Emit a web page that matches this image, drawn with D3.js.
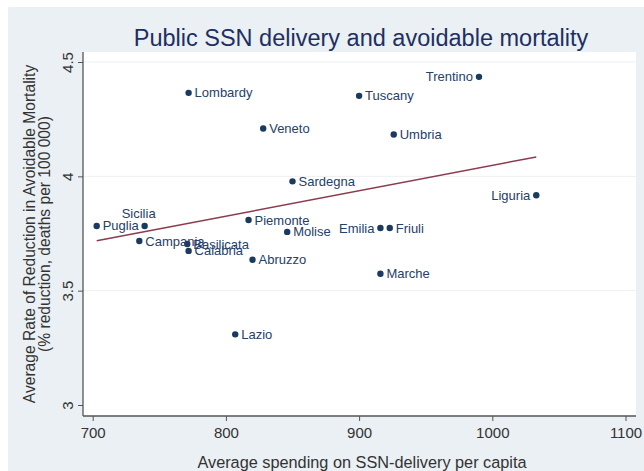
<!DOCTYPE html>
<html>
<head>
<meta charset="utf-8">
<script src="https://cdn.jsdelivr.net/npm/d3@7"></script>
<style>
  body { margin: 0; background: #fff; }
  text { font-family: "Liberation Sans", Arial, sans-serif; }
</style>
</head>
<body>
<div class="chart"></div>
<script>
// data
var regions = ["Trentino", "Lombardy", "Tuscany", "Veneto", "Umbria", "Sardegna", "Liguria",
  "Sicilia", "Puglia", "Piemonte", "Molise", "Emilia", "Friuli", "Campania", "Basilicata",
  "Calabria", "Abruzzo", "Marche", "Lazio"];
var spending = [990, 772, 900, 828, 926, 850, 1033, 739, 703, 817, 846, 916, 923, 735, 771, 772, 820, 916, 807];
var reduction = [4.435, 4.365, 4.352, 4.209, 4.183, 3.978, 3.917, 3.783, 3.783, 3.809, 3.757, 3.774, 3.774, 3.717, 3.704, 3.674, 3.635, 3.574, 3.309];
// label position: r = right, l = left, t = top
var labelPos = ["l", "r", "r", "r", "r", "r", "l", "t", "r", "r", "r", "l", "r", "r", "r", "r", "r", "r", "r"];
var fitX = [703, 1033];
var fitY = [3.718, 4.085];
var xTicks = [700, 800, 900, 1000, 1100];
var yTicks = [3, 3.5, 4, 4.5];

var W = 644, H = 471;
var pLeft = 83, pRight = 636, pTop = 52, pBottom = 416;

var svg = d3.select(".chart").append("svg")
    .attr("width", W)
    .attr("height", H);

// outer background
svg.append("rect")
    .attr("x", 8).attr("y", 7)
    .attr("width", W - 8).attr("height", H - 7)
    .attr("fill", "#eaf0f3");

// plot region
svg.append("rect")
    .attr("x", pLeft).attr("y", pTop)
    .attr("width", pRight - pLeft).attr("height", pBottom - pTop)
    .attr("fill", "#ffffff");

var x = d3.scaleLinear().domain([700, 1100]).range([92.7, 625.5]);
var y = d3.scaleLinear().domain([3, 4.5]).range([405, 62]);

// gridlines
svg.selectAll(".grid")
    .data(yTicks.filter(function(d) { return d > 3; }))
    .enter().append("line")
    .attr("class", "grid")
    .attr("x1", pLeft).attr("x2", pRight)
    .attr("y1", function(d) { return y(d); })
    .attr("y2", function(d) { return y(d); })
    .attr("stroke", "#eceff2")
    .attr("stroke-width", 1);

// x axis
var xAxis = svg.append("g")
    .attr("transform", "translate(0," + pBottom + ")")
    .call(d3.axisBottom(x).tickValues(xTicks).tickSize(5).tickPadding(6).tickFormat(d3.format("d")));
xAxis.select(".domain").attr("d", "M" + pLeft + ",0H" + pRight).attr("stroke", "#555").attr("stroke-width", 1.3);
xAxis.selectAll(".tick line").attr("stroke", "#555");
xAxis.selectAll(".tick text")
    .attr("font-size", 15)
    .attr("fill", "#333");

// y axis
var yAxis = svg.append("g")
    .attr("transform", "translate(" + pLeft + ",0)")
    .call(d3.axisLeft(y).tickValues(yTicks).tickSize(5).tickFormat(d3.format("")));
yAxis.select(".domain").attr("d", "M0," + pTop + "V" + pBottom).attr("stroke", "#555").attr("stroke-width", 1.3);
yAxis.selectAll(".tick line").attr("stroke", "#555");
yAxis.selectAll(".tick text")
    .attr("font-size", 15)
    .attr("fill", "#333")
    .attr("x", 0).attr("dy", 0)
    .attr("transform", "translate(-10,0) rotate(-90)")
    .style("text-anchor", "middle");

// fitted line
svg.append("line")
    .attr("x1", x(fitX[0])).attr("y1", y(fitY[0]))
    .attr("x2", x(fitX[1])).attr("y2", y(fitY[1]))
    .attr("stroke", "#8c3a4e")
    .attr("stroke-width", 1.5);

// points
var pts = d3.range(regions.length);
svg.selectAll(".dot")
    .data(pts)
    .enter().append("circle")
    .attr("class", "dot")
    .attr("cx", function(i) { return x(spending[i]); })
    .attr("cy", function(i) { return y(reduction[i]); })
    .attr("r", 3.2)
    .attr("fill", "#1a3a60");

svg.selectAll(".lab")
    .data(pts)
    .enter().append("text")
    .attr("class", "lab")
    .attr("x", function(i) {
      var p = labelPos[i];
      if (p === "r") return x(spending[i]) + 6;
      if (p === "l") return x(spending[i]) - 6;
      return x(spending[i]) - 6;
    })
    .attr("y", function(i) {
      return labelPos[i] === "t" ? y(reduction[i]) - 8 : y(reduction[i]) + 4.5;
    })
    .style("text-anchor", function(i) {
      var p = labelPos[i];
      return p === "l" ? "end" : (p === "t" ? "middle" : "start");
    })
    .attr("font-size", 13)
    .attr("fill", "#25406a")
    .text(function(i) { return regions[i]; });

// title
svg.append("text")
    .attr("x", 361).attr("y", 46)
    .style("text-anchor", "middle")
    .attr("font-size", 23.5)
    .attr("fill", "#1e2f62")
    .text("Public SSN delivery and avoidable mortality");

// axis titles
svg.append("text")
    .attr("x", 362).attr("y", 468)
    .style("text-anchor", "middle")
    .attr("font-size", 16.3)
    .attr("fill", "#333")
    .text("Average spending on SSN-delivery per capita");

svg.append("text")
    .attr("transform", "translate(35,234) rotate(-90)")
    .style("text-anchor", "middle")
    .attr("font-size", 15.6)
    .attr("fill", "#333")
    .text("Average Rate of Reduction in Avoidable Mortality");

svg.append("text")
    .attr("transform", "translate(50,234) rotate(-90)")
    .style("text-anchor", "middle")
    .attr("font-size", 15.6)
    .attr("fill", "#333")
    .text("(% reduction, deaths per 100 000)");
</script>
</body>
</html>
